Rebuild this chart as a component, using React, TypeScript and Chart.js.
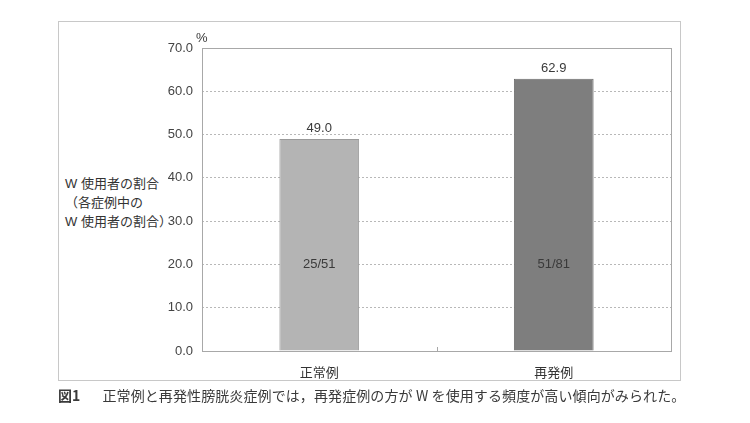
import { Chart, registerables, Plugin } from "chart.js";
import { useEffect, useRef } from "react";

Chart.register(...registerables);

const categories = ["正常例", "再発例"];
const rates = [49.0, 62.9];
const fractions = ["25/51", "51/81"];
const barColors = ["#b4b4b4", "#7e7e7e"];
const barEdges = ["#9a9a9a", "#6c6c6c"];
const fractionAt = 20; // where the n/N labels sit on the y axis
const yTitle = ["W 使用者の割合", "（各症例中の", "W 使用者の割合）"];
const caption = "正常例と再発性膀胱炎症例では，再発症例の方が W を使用する頻度が高い傾向がみられた。";

const SANS = "'Liberation Sans', Arial, 'Noto Sans CJK JP', sans-serif";

// frame around plot area, in-between tick, value labels, % unit
const annotate: Plugin<"bar"> = {
  id: "annotate",
  afterDatasetsDraw(chart) {
    const { ctx, chartArea } = chart;
    const x = chart.scales.x;
    const y = chart.scales.y;
    ctx.save();
    ctx.strokeStyle = "#a8a8a8";
    ctx.lineWidth = 1;
    ctx.strokeRect(chartArea.left + 0.5, chartArea.top + 0.5, chartArea.width, chartArea.height);

    // small tick between the two categories
    const mid = Math.round((x.getPixelForValue(0) + x.getPixelForValue(1)) / 2) + 0.5;
    ctx.beginPath();
    ctx.moveTo(mid, chartArea.bottom);
    ctx.lineTo(mid, chartArea.bottom - 4);
    ctx.stroke();

    const meta = chart.getDatasetMeta(0);
    ctx.fillStyle = "#3a3a3a";
    ctx.font = "13px " + SANS;
    ctx.textAlign = "center";
    ctx.textBaseline = "middle";
    meta.data.forEach((bar, i) => {
      ctx.fillText(rates[i].toFixed(1), bar.x, bar.y - 10);
      ctx.fillText(fractions[i], bar.x, y.getPixelForValue(fractionAt));
    });

    ctx.textAlign = "left";
    ctx.fillText("%", chartArea.left - 6, chartArea.top - 10);
    ctx.restore();
  },
};

const App: React.FC = () => {
  const canvasRef = useRef<HTMLCanvasElement | null>(null);
  const chartRef = useRef<Chart<"bar"> | null>(null);

  useEffect(() => {
    if (chartRef.current) {
      chartRef.current.destroy();
    }
    if (!canvasRef.current) return;

    chartRef.current = new Chart(canvasRef.current, {
      type: "bar",
      data: {
        labels: categories,
        datasets: [
          {
            data: rates,
            backgroundColor: barColors,
            borderColor: barEdges,
            borderWidth: 1,
            barPercentage: 0.34,
            categoryPercentage: 1,
          },
        ],
      },
      options: {
        animation: false,
        responsive: true,
        maintainAspectRatio: false,
        layout: {
          padding: { left: 142, right: 79, top: 48, bottom: 44 },
        },
        scales: {
          x: {
            grid: { display: false },
            border: { display: false },
            ticks: {
              color: "#333",
              padding: 7,
              font: { size: 13, family: SANS },
            },
            afterFit: (scale) => {
              scale.height = 28;
            },
          },
          y: {
            min: 0,
            max: 70,
            grid: {
              color: (c) => (c.tick && (c.tick.value === 0 || c.tick.value === 70) ? "rgba(0,0,0,0)" : "#b8b8b8"),
              drawTicks: false,
            },
            border: { display: false, dash: [2, 2] },
            ticks: {
              stepSize: 10,
              color: "#444",
              padding: 9,
              font: { size: 13, family: SANS },
              callback: (v) => Number(v).toFixed(1),
            },
            afterFit: (scale) => {
              scale.width = 60;
            },
          },
        },
        plugins: {
          legend: { display: false },
          tooltip: { enabled: false },
        },
      },
      plugins: [annotate],
    });

    return () => {
      if (chartRef.current) {
        chartRef.current.destroy();
        chartRef.current = null;
      }
    };
  }, []);

  return (
    <div style={{ position: "absolute", left: 0, top: 0, width: 750, height: 423, background: "#fff" }}>
      <div
        style={{
          position: "absolute",
          left: 58,
          top: 21,
          width: 621,
          height: 358,
          border: "1px solid #c8c8c8",
        }}
      />
      <div
        style={{
          position: "absolute",
          left: 65,
          top: 174,
          fontFamily: SANS,
          fontSize: 13,
          lineHeight: "19px",
          color: "#333",
          whiteSpace: "nowrap",
        }}
      >
        {yTitle.map((t) => (
          <div key={t}>{t}</div>
        ))}
      </div>
      <div style={{ position: "absolute", left: 0, top: 0, width: 750, height: 423 }}>
        <canvas ref={canvasRef} />
      </div>
      <div
        style={{
          position: "absolute",
          left: 58,
          top: 385,
          fontFamily: "'Noto Sans CJK JP', sans-serif",
          fontSize: 14,
          color: "#3a3a3a",
          whiteSpace: "nowrap",
          letterSpacing: "0.1px",
        }}
      >
        <span style={{ fontWeight: "bold", marginRight: 22 }}>図1</span>
        {caption}
      </div>
    </div>
  );
};

export default App;
